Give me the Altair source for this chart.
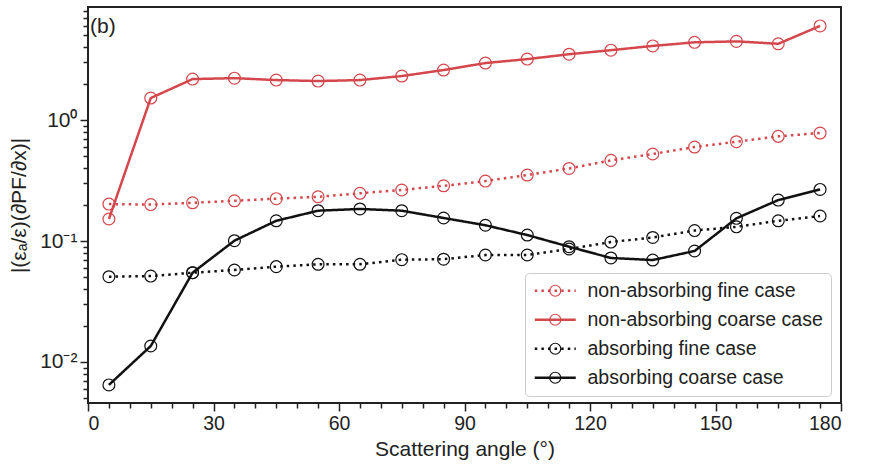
import altair as alt
import pandas as pd

FONT = "Liberation Sans"
TXT = "#222222"
RED = "#d4474c"
BLK = "#111111"

angles = [5, 15, 25, 35, 45, 55, 65, 75, 85, 95, 105, 115, 125, 135, 145, 155, 165, 175]
nonabs_fine = [0.202, 0.200, 0.207, 0.215, 0.224, 0.232, 0.248, 0.264, 0.286, 0.313,
               0.351, 0.398, 0.464, 0.524, 0.598, 0.662, 0.733, 0.781]
nonabs_coarse = [0.152, 1.52, 2.18, 2.22, 2.14, 2.10, 2.14, 2.31, 2.59, 2.96,
                 3.19, 3.50, 3.78, 4.10, 4.39, 4.47, 4.27, 6.00]
abs_fine = [0.0507, 0.0513, 0.0547, 0.0576, 0.0614, 0.0642, 0.0642, 0.0701, 0.0707, 0.0766,
            0.0766, 0.0859, 0.0980, 0.107, 0.122, 0.131, 0.147, 0.161]
abs_coarse = [0.00646, 0.01355, 0.0547, 0.1006, 0.147, 0.178, 0.184, 0.178, 0.155, 0.135,
              0.112, 0.0897, 0.0724, 0.0696, 0.0827, 0.154, 0.218, 0.267]

series_names = ["non-absorbing fine case", "non-absorbing coarse case",
                "absorbing fine case", "absorbing coarse case"]
series_keys = ["1", "2", "3", "4"]
series_colors = [RED, RED, BLK, BLK]
series_dashes = [[2.5, 4.1], [1, 0], [2.5, 4.1], [1, 0]]
panel_label = ["(b)"]

x_ticks = list(range(0, 181, 5))
y_ticks = [0.005, 0.006, 0.007, 0.008, 0.009, 0.01,
           0.02, 0.03, 0.04, 0.05, 0.06, 0.07, 0.08, 0.09, 0.1,
           0.2, 0.3, 0.4, 0.5, 0.6, 0.7, 0.8, 0.9, 1,
           2, 3, 4, 5, 6, 7, 8]

rows = []
for name, key, vals in zip(series_names, series_keys,
                           [nonabs_fine, nonabs_coarse, abs_fine, abs_coarse]):
    for a, v in zip(angles, vals):
        rows.append({"series": name, "key": key, "angle": a, "value": v})
df = pd.DataFrame(rows)

major_test_y = "datum.value == 0.01 || datum.value == 0.1 || datum.value == 1"

x_enc = alt.X("angle:Q",
              scale=alt.Scale(domain=[0, 180], nice=False, zero=False),
              axis=alt.Axis(values=x_ticks,
                            labelExpr="datum.value % 30 == 0 ? datum.label : ''",
                            tickSize={"condition": {"test": "datum.value % 30 == 0", "value": 8}, "value": 5},
                            labelFontSize=19.5,
                            title="Scattering angle (°)"))
y_enc = alt.Y("value:Q",
              scale=alt.Scale(type="log", domain=[0.00458, 8.6], nice=False),
              axis=alt.Axis(values=y_ticks,
                            labelExpr="datum.value == 1 ? '10⁰' : datum.value == 0.1 ? '10⁻¹' : datum.value == 0.01 ? '10⁻²' : ''",
                            tickSize={"condition": {"test": major_test_y, "value": 8}, "value": 5},
                            labelFontSize=21,
                            title="|(εₐ/ε)(∂PF/∂x)|"))

legend_common = dict(title=None, orient="none", legendY=266, labelFontSize=19.5,
                     labelFont=FONT, rowPadding=8, padding=8, labelLimit=400,
                     symbolSize=121)

line_symbol = "M-1.45,0L6.0,0"
line_legend = dict(legendX=437, symbolType=line_symbol, symbolStrokeWidth=2.5,
                   labelColor=TXT, labelOffset=35, strokeColor="#cccccc",
                   cornerRadius=4, **legend_common)

lines = alt.Chart(df).mark_line(strokeWidth=2.5).encode(
    x=x_enc, y=y_enc,
    color=alt.Color("series:N",
                    scale=alt.Scale(domain=series_names, range=series_colors),
                    legend=alt.Legend(**line_legend)),
    strokeDash=alt.StrokeDash("series:N",
                              scale=alt.Scale(domain=series_names, range=series_dashes),
                              legend=alt.Legend(**line_legend)),
    detail="series:N",
)

points = alt.Chart(df).mark_point(shape="circle", filled=False, size=140,
                                  strokeWidth=1.2, opacity=1).encode(
    x=x_enc, y=y_enc,
    stroke=alt.Stroke("key:N",
                      scale=alt.Scale(domain=series_keys, range=series_colors),
                      legend=alt.Legend(legendX=449.5, symbolType="circle",
                                        symbolStrokeWidth=1.2, labelExpr="' '",
                                        labelOffset=35, **legend_common)),
)

label = alt.Chart(pd.DataFrame({"label": panel_label})).mark_text(
    align="left", baseline="middle", fontSize=21, font=FONT, color=TXT
).encode(x=alt.value(2), y=alt.value(20), text="label:N")

chart = alt.layer(lines, points, label).properties(
    width=753, height=396,
    autosize=alt.AutoSizeParams(type="none"),
    padding={"left": 88, "top": 7, "right": 31, "bottom": 66},
).configure_view(
    stroke="#222222", strokeWidth=2
).configure_axis(
    domain=False, grid=False,
    tickColor=TXT, tickWidth=1.5,
    labelFont=FONT, labelColor=TXT, labelPadding=3,
    labelOverlap=False,
    titleFont=FONT, titleFontSize=21, titleColor=TXT, titleFontWeight="normal",
).configure_axisX(
    titlePadding=6
).configure_axisY(
    titlePadding=10
)

chart.save("out.html", embed_options={"renderer": "svg", "actions": False})
